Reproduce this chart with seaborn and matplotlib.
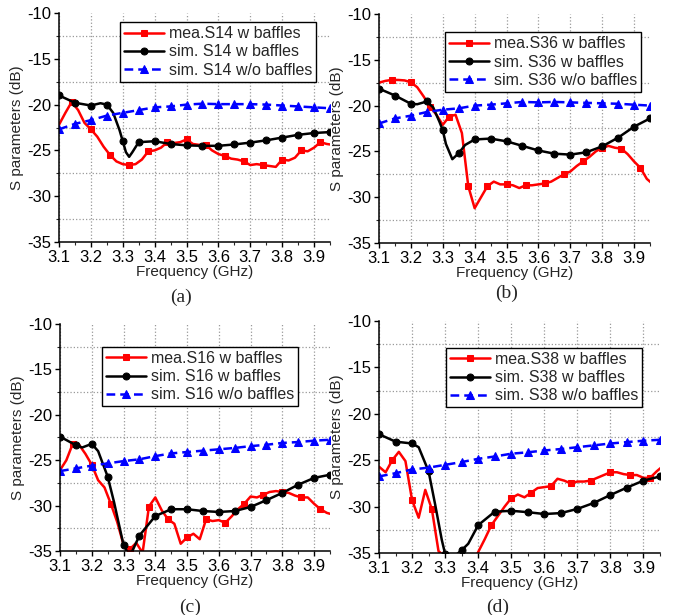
import numpy as np
import seaborn as sns
import matplotlib
matplotlib.use("Agg")
import matplotlib.pyplot as plt
from matplotlib.ticker import MultipleLocator

sns.set_style("ticks")
plt.rcParams['font.family'] = ['Liberation Sans', 'DejaVu Sans']
plt.rcParams['axes.unicode_minus'] = False

# frequency grids (GHz)
f_mea = np.round(np.arange(3.10, 3.97, 0.02), 2)   # measured, every 20 MHz
f_wo = np.round(np.arange(3.10, 3.96, 0.05), 2)    # sim w/o baffles

# ---- (a) S14 ----
mea_a = [-22.2, -20.9, -19.7, -20.6, -22.0, -22.7, -23.5, -24.6, -25.5, -26.2,
         -26.5, -26.6, -26.5, -26.0, -25.1, -25.0, -24.7, -24.1, -24.2, -24.1,
         -23.8, -24.3, -24.4, -24.4, -25.0, -25.4, -25.6, -25.9, -26.0, -26.2,
         -26.6, -26.5, -26.6, -26.7, -26.8, -26.0, -26.1, -25.8, -25.0, -25.1,
         -24.7, -24.1, -24.3, -24.4]
sim_fa = [3.10, 3.15, 3.20, 3.23, 3.25, 3.27, 3.29, 3.30, 3.31, 3.32, 3.33, 3.35,
          3.40, 3.45, 3.50, 3.55, 3.60, 3.65, 3.70, 3.75, 3.80, 3.85, 3.90, 3.95]
sim_a = [-19.0, -19.8, -20.1, -19.85, -20.0, -20.9, -22.8, -24.0, -25.2, -25.7,
         -25.2, -24.1, -24.0, -24.3, -24.45, -24.5, -24.5, -24.35, -24.15, -23.9,
         -23.6, -23.3, -23.1, -23.0]
wo_a = [-22.7, -22.1, -21.7, -21.2, -20.9, -20.6, -20.3, -20.2, -20.0, -19.9,
        -19.95, -19.95, -19.95, -20.0, -20.1, -20.2, -20.3, -20.4]

# ---- (b) S36 ----
mea_b = [-17.5, -17.3, -17.2, -17.2, -17.25, -17.45, -18.0, -19.0, -20.1, -21.0,
         -22.1, -21.2, -21.0, -23.0, -28.8, -31.2, -30.0, -28.8, -28.3, -28.6,
         -28.6, -28.7, -29.0, -28.7, -28.7, -28.6, -28.5, -28.3, -27.9, -27.5,
         -27.2, -26.6, -26.1, -25.6, -25.0, -24.6, -24.4, -24.6, -24.7, -25.3,
         -26.1, -26.8, -28.0, -28.6]
sim_fb = [3.10, 3.15, 3.20, 3.22, 3.25, 3.27, 3.29, 3.30, 3.31, 3.33, 3.35, 3.37,
          3.40, 3.45, 3.50, 3.55, 3.60, 3.65, 3.70, 3.75, 3.80, 3.85, 3.90, 3.95]
sim_b = [-18.15, -18.9, -19.8, -19.85, -19.55, -20.2, -21.8, -22.7, -24.2, -25.85,
         -25.2, -24.3, -23.7, -23.6, -23.9, -24.4, -24.9, -25.25, -25.35, -25.1,
         -24.45, -23.5, -22.3, -21.4]
wo_b = [-21.95, -21.4, -21.1, -20.7, -20.45, -20.3, -20.0, -19.9, -19.75, -19.6,
        -19.65, -19.6, -19.65, -19.7, -19.75, -19.8, -19.9, -20.0]

# ---- (c) S16 ----
mea_c = [-26.1, -25.0, -23.2, -23.3, -24.3, -25.5, -27.2, -28.0, -29.8, -31.8,
         -34.3, -34.8, -34.1, -35.2, -30.1, -29.1, -30.5, -31.5, -32.0, -34.2,
         -33.5, -33.1, -33.7, -31.5, -31.7, -31.6, -31.9, -31.2, -30.4, -29.8,
         -29.0, -29.1, -28.8, -28.5, -28.4, -28.5, -28.6, -28.9, -29.1, -29.1,
         -29.8, -30.4, -30.8, -31.0]
sim_fc = [3.10, 3.15, 3.17, 3.20, 3.22, 3.25, 3.27, 3.30, 3.32, 3.35, 3.40, 3.45,
          3.50, 3.55, 3.60, 3.65, 3.70, 3.75, 3.80, 3.85, 3.90, 3.95]
sim_c = [-22.4, -23.35, -23.6, -23.2, -24.0, -26.8, -29.6, -34.35, -35.6, -33.3,
         -31.15, -30.4, -30.4, -30.6, -30.7, -30.6, -30.15, -29.4, -28.6, -27.7,
         -26.95, -26.6]
wo_c = [-26.2, -25.9, -25.6, -25.35, -25.1, -24.9, -24.55, -24.25, -24.1, -23.95,
        -23.8, -23.65, -23.45, -23.3, -23.1, -23.0, -22.85, -22.75]

# ---- (d) S38 ----
mea_d = [-25.7, -26.3, -25.0, -24.1, -25.1, -29.3, -31.2, -28.2, -30.3, -34.8,
         -35.4, -36.5, -38.0, -37.5, -36.3, -34.9, -33.5, -32.0, -31.0, -30.0,
         -29.1, -28.7, -29.0, -28.5, -28.0, -27.9, -27.8, -27.0, -27.2, -27.5,
         -27.3, -27.3, -27.2, -26.9, -26.6, -26.3, -26.3, -26.5, -26.6, -26.6,
         -26.9, -26.9, -26.2, -25.6]
sim_fd = [3.10, 3.15, 3.20, 3.22, 3.25, 3.27, 3.29, 3.30, 3.32, 3.34, 3.35, 3.37,
          3.40, 3.45, 3.50, 3.55, 3.60, 3.65, 3.70, 3.75, 3.80, 3.85, 3.90, 3.95]
sim_d = [-22.2, -23.0, -23.2, -23.6, -26.2, -29.8, -33.6, -35.1, -35.6, -35.0,
         -34.7, -34.0, -32.0, -30.55, -30.45, -30.6, -30.8, -30.7, -30.25, -29.6,
         -28.75, -27.95, -27.2, -26.75]
wo_d = [-26.75, -26.4, -26.0, -25.8, -25.5, -25.2, -24.85, -24.6, -24.3, -24.15,
        -23.95, -23.8, -23.6, -23.4, -23.2, -23.05, -22.9, -22.8]

panels = [
    ("S14", mea_a, sim_fa, sim_a, wo_a, "(a)"),
    ("S36", mea_b, sim_fb, sim_b, wo_b, "(b)"),
    ("S16", mea_c, sim_fc, sim_c, wo_c, "(c)"),
    ("S38", mea_d, sim_fd, sim_d, wo_d, "(d)"),
]

# layout in pixels (left, top, right, bottom) on a 675x615 canvas
W, H = 675, 615
boxes = [(59, 13, 330, 242), (379, 14, 650, 243),
         (60, 324, 330, 551), (379, 321, 660, 553)]
leg_anchor = [(0.225, 0.96), (0.244, 0.92), (0.155, 0.899), (0.238, 0.884)]
tag_pos = [(181, 297), (507, 293), (190, 607), (498, 607)]

fig = plt.figure(figsize=(6.75, 6.15), dpi=100)

for (sid, mea, sim_f, sim, wo, tag), (l, t, r, b), anc, (tx, ty) in zip(
        panels, boxes, leg_anchor, tag_pos):
    ax = fig.add_axes([l / W, 1 - b / H, (r - l) / W, (b - t) / H])

    # markers on the simulated curve only at every 50 MHz
    mk = [i for i, f in enumerate(sim_f) if abs(f * 20 - round(f * 20)) < 1e-6]

    sns.lineplot(x=f_mea, y=mea, ax=ax, estimator=None, color="#ff0000",
                 linewidth=1.8, marker="s", markersize=4.5,
                 markeredgecolor="#ff0000", markerfacecolor="#ff0000",
                 markevery=slice(2, None, 3), label=f"mea.{sid} w baffles")
    sns.lineplot(x=sim_f, y=sim, ax=ax, estimator=None, color="black",
                 linewidth=1.8, marker="o", markersize=5,
                 markeredgecolor="black", markerfacecolor="black",
                 markevery=mk, label=f"sim. {sid} w baffles")
    sns.lineplot(x=f_wo, y=wo, ax=ax, estimator=None, color="#0000ff",
                 linewidth=1.8, linestyle=(0, (3.5, 2)), marker="^",
                 markersize=5.5, markeredgecolor="#0000ff",
                 markerfacecolor="#0000ff", label=f"sim. {sid} w/o baffles")

    ax.set_xlim(3.1, 3.95)
    ax.set_ylim(-35, -10)
    ax.xaxis.set_major_locator(MultipleLocator(0.1))
    ax.xaxis.set_minor_locator(MultipleLocator(0.05))
    ax.yaxis.set_major_locator(MultipleLocator(5))
    ax.yaxis.set_minor_locator(MultipleLocator(2.5))
    ax.set_xticks(np.round(np.arange(3.1, 3.95, 0.1), 1))
    ax.set_xticklabels([f"{v:.1f}" for v in np.round(np.arange(3.1, 3.95, 0.1), 1)])

    ax.grid(which="major", axis="x", color="#999999", linestyle=":", linewidth=0.9)
    ax.grid(which="minor", axis="y", color="#999999", linestyle=":", linewidth=0.9)
    sns.despine(ax=ax)
    for s in ("left", "bottom"):
        ax.spines[s].set_linewidth(1.1)
        ax.spines[s].set_color("black")
    ax.tick_params(which="major", direction="out", length=3.5, width=1,
                   labelsize=12, pad=2, colors="black")
    ax.tick_params(which="minor", direction="out", length=2, width=0.8)

    ax.set_xlabel("Frequency (GHz)", fontsize=11, labelpad=0)
    ax.set_ylabel("S parameters (dB)", fontsize=11, labelpad=2)

    leg = ax.legend(loc="upper left", bbox_to_anchor=anc, borderaxespad=0,
                    fontsize=11.5, frameon=True, fancybox=False, framealpha=1,
                    edgecolor="black", handlelength=2.5, handletextpad=0.3,
                    labelspacing=0.2, borderpad=0.25)
    leg.get_frame().set_linewidth(1.0)

    fig.text(tx / W, 1 - ty / H, tag, ha="center", va="center",
             fontsize=14, family="Liberation Serif")

fig.savefig("out.png", dpi=100)
